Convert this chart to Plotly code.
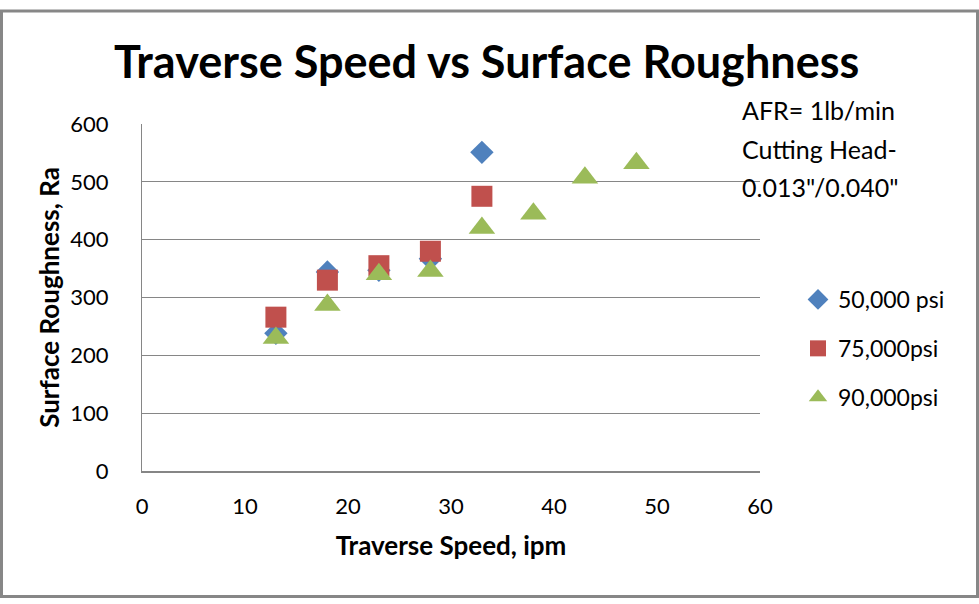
import plotly.graph_objects as go

# Data
speed_50 = [13, 18, 23, 28, 33]
ra_50 = [238, 344, 347, 367, 551]
speed_75 = [13, 18, 23, 28, 33]
ra_75 = [266, 330, 355, 380, 475]
speed_90 = [13, 18, 23, 28, 33, 38, 43, 48]
ra_90 = [230, 287, 340, 346, 420, 445, 507, 532]

series_names = ["50,000 psi", "75,000psi", "90,000psi"]
colors = ["#4F81BD", "#C0504D", "#9BBB59"]
symbols = ["diamond", "square", "triangle-up"]
sizes = [18, 21, 23]

x_ticks = [0, 10, 20, 30, 40, 50, 60]
y_ticks = [0, 100, 200, 300, 400, 500, 600]

FONT = "Lato"
GRID = "#868686"

fig = go.Figure()
for i, (xs, ys) in enumerate([(speed_50, ra_50), (speed_75, ra_75), (speed_90, ra_90)]):
    fig.add_trace(go.Scatter(
        x=xs, y=ys, mode="markers", name=series_names[i],
        legendgroup=f"g{i}",
        marker=dict(symbol=symbols[i], color=colors[i], size=sizes[i], line=dict(width=0)),
    ))

# plot area pixel geometry (for paper-coordinate helpers)
L, R, T, B = 142, 760, 124, 471
W, H = R - L, B - T
def px(xp):
    return (xp - L) / W
def py(yp):
    return (B - yp) / H

fig.update_layout(
    width=979, height=604,
    margin=dict(l=L, r=979 - R, t=T, b=604 - B, pad=0),
    paper_bgcolor="white", plot_bgcolor="white",
    font=dict(family=FONT, color="black"),
    title=dict(text="<b>Traverse Speed vs Surface Roughness</b>",
               font=dict(family=FONT, size=45, color="black"),
               x=0.497, xanchor="center", xref="container",
               y=1 - 62 / 604, yanchor="middle", yref="container"),
    xaxis=dict(range=[0, 60], tickvals=x_ticks, ticktext=[str(v) for v in x_ticks],
               showgrid=False, zeroline=False, showline=True, linecolor=GRID, linewidth=2,
               ticks="", tickfont=dict(family=FONT, size=22, color="black"),
               ticklabelstandoff=15,
               title=dict(text="<b>Traverse Speed, ipm</b>", font=dict(family=FONT, size=26, color="black"),
                          standoff=18)),
    yaxis=dict(range=[0, 600], tickvals=y_ticks, ticktext=[str(v) for v in y_ticks],
               showgrid=True, gridcolor=GRID, gridwidth=1, zeroline=False,
               showline=True, linecolor=GRID, linewidth=1,
               ticks="", tickfont=dict(family=FONT, size=22, color="black"),
               ticklabelstandoff=28,
               title=dict(text="<b>Surface Roughness, Ra</b>", font=dict(family=FONT, size=26, color="black"),
                          standoff=3)),
    legend=dict(x=px(798), xanchor="left", y=py(278), yanchor="top",
                font=dict(family=FONT, size=23, color="black"),
                traceorder="grouped", tracegroupgap=16,
                bgcolor="rgba(0,0,0,0)", borderwidth=0),
    showlegend=True,
)

# Text box annotations
for txt, yc in [("AFR= 1lb/min", 110), ("Cutting Head-", 149), ("0.013\"/0.040\"", 187)]:
    fig.add_annotation(text=txt, xref="paper", yref="paper", x=px(740), y=py(yc),
                       xanchor="left", yanchor="middle", showarrow=False,
                       font=dict(family=FONT, size=25, color="black"))

# Outer chart border
fig.add_shape(type="rect", xref="paper", yref="paper",
              x0=px(1.5), x1=px(977.5), y0=py(596.5), y1=py(11),
              line=dict(color="#878787", width=3), fillcolor="rgba(0,0,0,0)", layer="below")

fig.write_html("out.html")
